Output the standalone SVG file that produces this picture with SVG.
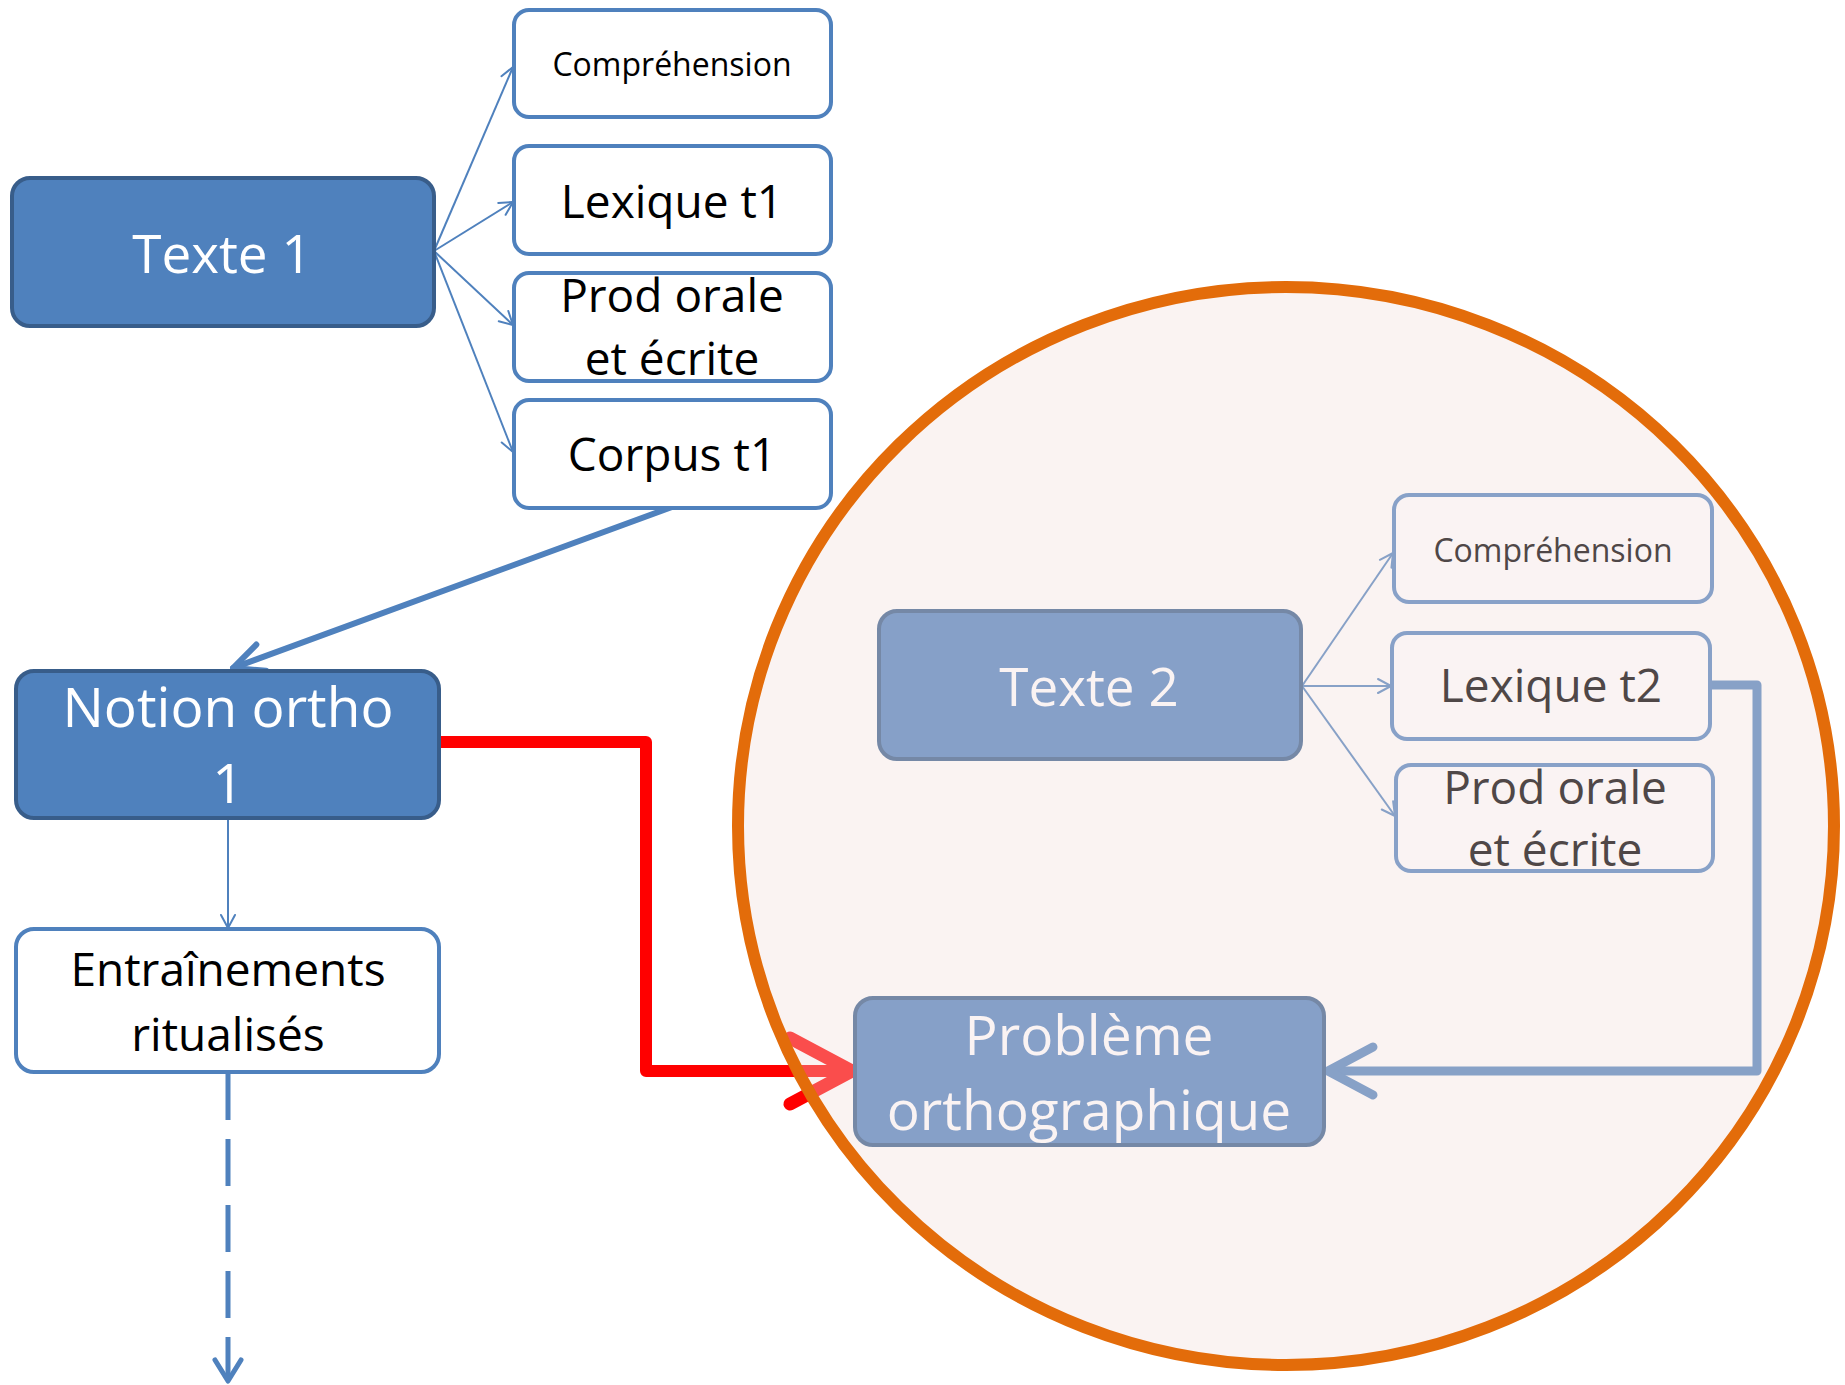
<svg xmlns="http://www.w3.org/2000/svg" width="1845" height="1385" viewBox="0 0 1845 1385">
<style>
marker{overflow:visible}
.dark{fill:#4F81BD;stroke:#385D8A;stroke-width:4}
.light{fill:#FFFFFF;stroke:#4F81BD;stroke-width:4}
.dark2{fill:#86A0C8;stroke:#7588A6;stroke-width:4}
.light2{fill:#FAF3F3;stroke:#88A1C8;stroke-width:4}
text{font-family:"Open Sans","Noto Sans","DejaVu Sans",sans-serif;text-anchor:middle}
.tw{fill:#FFFFFF}
.tb{fill:#000000}
.tw2{fill:#FAF3F3}
.tb2{fill:#4F4747}
.c{fill:none;stroke:#4F81BD}
</style>
<defs>
<marker id="mThin" markerUnits="userSpaceOnUse" orient="auto" refX="0" refY="0" markerWidth="1" markerHeight="1"><path d="M-13,-7 L0,0 L-13,7" fill="none" stroke="#4F81BD" stroke-width="2" stroke-linecap="round" stroke-linejoin="round"/></marker>
<marker id="mMed" markerUnits="userSpaceOnUse" orient="auto" refX="0" refY="0" markerWidth="1" markerHeight="1"><path d="M-30,-14 L0,0 L-30,14" fill="none" stroke="#4F81BD" stroke-width="6" stroke-linecap="round" stroke-linejoin="round"/></marker>
<marker id="mDash" markerUnits="userSpaceOnUse" orient="auto" refX="0" refY="0" markerWidth="1" markerHeight="1"><path d="M-21,-13 L0,0 L-21,13" fill="none" stroke="#4F81BD" stroke-width="5" stroke-linecap="round" stroke-linejoin="round"/></marker>
<marker id="mThick" markerUnits="userSpaceOnUse" orient="auto" refX="0" refY="0" markerWidth="1" markerHeight="1"><path d="M-45,-24 L0,0 L-45,24" fill="none" stroke="#4F81BD" stroke-width="9" stroke-linecap="round" stroke-linejoin="round"/></marker>
<marker id="mRed" markerUnits="userSpaceOnUse" orient="auto" refX="0" refY="0" markerWidth="1" markerHeight="1"><path d="M-62,-33 L0,0 L-62,33" fill="none" stroke="#FF0000" stroke-width="13" stroke-linecap="round" stroke-linejoin="miter"/></marker>
</defs>
<rect width="1845" height="1385" fill="#FFFFFF"/>
<g id="connectors">
<line class="c" stroke-width="2" x1="434" y1="251" x2="513" y2="67" marker-end="url(#mThin)"/>
<line class="c" stroke-width="2" x1="434" y1="251" x2="513" y2="202" marker-end="url(#mThin)"/>
<line class="c" stroke-width="2" x1="434" y1="251" x2="513" y2="325" marker-end="url(#mThin)"/>
<line class="c" stroke-width="2" x1="434" y1="251" x2="513" y2="452" marker-end="url(#mThin)"/>
<line class="c" stroke-width="6" stroke-linecap="round" x1="672" y1="507" x2="233" y2="668" marker-end="url(#mMed)"/>
<line class="c" stroke-width="2" x1="228" y1="818" x2="228" y2="928" marker-end="url(#mThin)"/>
<line class="c" stroke-width="5" stroke-dasharray="47 19" x1="228" y1="1073" x2="228" y2="1381" marker-end="url(#mDash)"/>
<path d="M439,742 H646 V1071 H852" fill="none" stroke="#FF0000" stroke-width="12" stroke-linejoin="round" marker-end="url(#mRed)"/>
<line class="c" stroke-width="2" x1="1302" y1="686" x2="1393" y2="553" marker-end="url(#mThin)"/>
<line class="c" stroke-width="2" x1="1302" y1="686" x2="1391" y2="686" marker-end="url(#mThin)"/>
<line class="c" stroke-width="2" x1="1302" y1="686" x2="1395" y2="816" marker-end="url(#mThin)"/>
<path class="c" d="M1710,685 H1757 V1071 H1328" stroke-width="9" stroke-linejoin="round" marker-end="url(#mThick)"/>
</g>
<ellipse id="zone" cx="1286" cy="826" rx="548" ry="539" fill="#F2DCDB" fill-opacity="0.35" stroke="#E36C0A" stroke-width="12"/>
<g id="texte1">
<rect class="dark" x="12" y="178" width="422" height="148" rx="18"/>
<text class="tw" x="222" y="273" font-size="53">Texte 1</text>
</g>
<g id="comprehension1">
<rect class="light" x="514" y="10" width="317" height="107" rx="15"/>
<text class="tb" x="672" y="76" font-size="32">Compréhension</text>
</g>
<g id="lexique1">
<rect class="light" x="514" y="146" width="317" height="108" rx="15"/>
<text class="tb" x="672" y="218" font-size="46">Lexique t1</text>
</g>
<g id="prod1">
<rect class="light" x="514" y="273" width="317" height="108" rx="15"/>
<text class="tb" x="672" y="312" font-size="46">Prod orale</text>
<text class="tb" x="672" y="375" font-size="46">et écrite</text>
</g>
<g id="corpus1">
<rect class="light" x="514" y="400" width="317" height="108" rx="15"/>
<text class="tb" x="672" y="471" font-size="46">Corpus t1</text>
</g>
<g id="notion1">
<rect class="dark" x="16" y="671" width="423" height="147" rx="18"/>
<text class="tw" x="228" y="727" font-size="55">Notion ortho</text>
<text class="tw" x="228" y="803" font-size="55">1</text>
</g>
<g id="entrainements">
<rect class="light" x="16" y="929" width="423" height="143" rx="18"/>
<text class="tb" x="228" y="986" font-size="46">Entraînements</text>
<text class="tb" x="228" y="1051" font-size="46">ritualisés</text>
</g>
<g id="texte2">
<rect class="dark2" x="879" y="611" width="422" height="148" rx="18"/>
<text class="tw2" x="1089" y="706" font-size="53">Texte 2</text>
</g>
<g id="comprehension2">
<rect class="light2" x="1394" y="495" width="318" height="107" rx="15"/>
<text class="tb2" x="1553" y="562" font-size="32">Compréhension</text>
</g>
<g id="lexique2">
<rect class="light2" x="1392" y="633" width="318" height="106" rx="15"/>
<text class="tb2" x="1551" y="702" font-size="46">Lexique t2</text>
</g>
<g id="prod2">
<rect class="light2" x="1396" y="765" width="317" height="106" rx="15"/>
<text class="tb2" x="1555" y="804" font-size="46">Prod orale</text>
<text class="tb2" x="1555" y="866" font-size="46">et écrite</text>
</g>
<g id="probleme">
<rect class="dark2" x="855" y="998" width="469" height="147" rx="18"/>
<text class="tw2" x="1089" y="1055" font-size="55">Problème</text>
<text class="tw2" x="1089" y="1130" font-size="55">orthographique</text>
</g>
</svg>
